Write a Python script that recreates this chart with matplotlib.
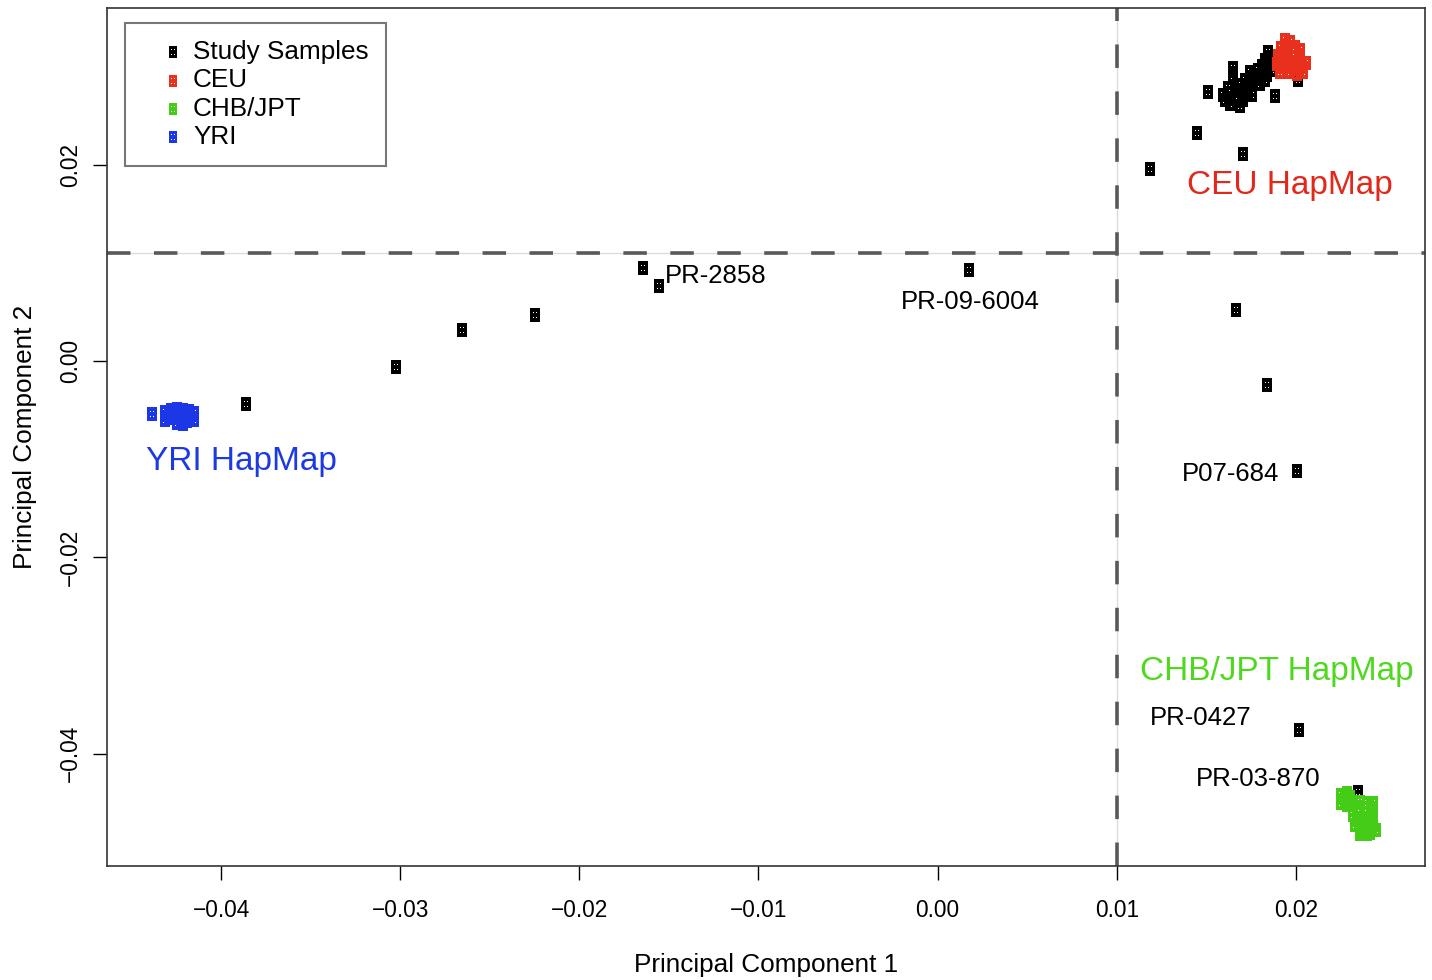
import numpy as np
import matplotlib
matplotlib.use('Agg')
import matplotlib.pyplot as plt
from matplotlib.path import Path

# ---- data (PC1, PC2) ----
study_pc1 = [-0.03860, -0.03022, -0.02654, -0.02246, -0.01642, -0.01553, 0.00173,
             0.01665, 0.01838, 0.02006, 0.02017, 0.02346,
             0.01184, 0.01447, 0.01704, 0.01508, 0.01648, 0.01648, 0.01603, 0.01631,
             0.01687, 0.01592, 0.01659, 0.01698, 0.01732, 0.01676, 0.01715, 0.01754,
             0.01777, 0.01743, 0.01788, 0.01810, 0.01827, 0.01855, 0.01844, 0.01799,
             0.01827, 0.01754, 0.01866, 0.01883, 0.02011, 0.01620, 0.01704, 0.01838,
             0.01877, 0.01720, 0.01765, 0.01665]
study_pc2 = [-0.00438, -0.00061, 0.00316, 0.00469, 0.00947, 0.00764, 0.00927,
             0.00520, -0.00244, -0.01120, -0.03759, -0.04390,
             0.01956, 0.02323, 0.02109, 0.02740, 0.02985, 0.02903, 0.02659, 0.02618,
             0.02598, 0.02710, 0.02699, 0.02740, 0.02781, 0.02811, 0.02862, 0.02842,
             0.02903, 0.02944, 0.02964, 0.03005, 0.03066, 0.03086, 0.03148, 0.02822,
             0.02862, 0.02710, 0.02964, 0.02699, 0.02862, 0.02781, 0.02659, 0.02913,
             0.03025, 0.02750, 0.02880, 0.02760]

ceu_pc1 = [0.01939, 0.01966, 0.01916, 0.01955, 0.01994, 0.02022, 0.01899, 0.01933,
           0.01978, 0.02017, 0.01894, 0.01939, 0.01983, 0.02034, 0.02056, 0.01911,
           0.01966, 0.02006, 0.02039, 0.02000]
ceu_pc2 = [0.03270, 0.03249, 0.03188, 0.03168, 0.03199, 0.03168, 0.03107, 0.03086,
           0.03097, 0.03076, 0.03025, 0.03005, 0.03025, 0.03005, 0.03036, 0.02944,
           0.02944, 0.02924, 0.02944, 0.02985]

chb_pc1 = [0.02251, 0.02285, 0.02251, 0.02285, 0.02318, 0.02358, 0.02397, 0.02430,
           0.02318, 0.02358, 0.02397, 0.02430, 0.02330, 0.02369, 0.02408, 0.02430,
           0.02369, 0.02413, 0.02385, 0.02302, 0.02274, 0.02341, 0.02380, 0.02419,
           0.02341, 0.02380, 0.02419, 0.02358, 0.02397, 0.02447]
chb_pc2 = [-0.04421, -0.04401, -0.04502, -0.04523, -0.04523, -0.04492, -0.04502, -0.04502,
           -0.04625, -0.04604, -0.04604, -0.04604, -0.04727, -0.04706, -0.04706, -0.04727,
           -0.04798, -0.04808, -0.04757, -0.04441, -0.04472, -0.04554, -0.04554, -0.04554,
           -0.04666, -0.04666, -0.04666, -0.04818, -0.04818, -0.04777]

yri_pc1 = [-0.04385, -0.04313, -0.04313, -0.04279, -0.04279, -0.04246, -0.04246, -0.04246,
           -0.04212, -0.04212, -0.04212, -0.04179, -0.04179, -0.04151, -0.04151, -0.04291,
           -0.04190]
yri_pc2 = [-0.00540, -0.00520, -0.00601, -0.00499, -0.00581, -0.00489, -0.00560, -0.00632,
           -0.00499, -0.00570, -0.00642, -0.00509, -0.00581, -0.00530, -0.00601, -0.00550,
           -0.00611]

sample_labels = ['PR-2858', 'PR-09-6004', 'P07-684', 'PR-0427', 'PR-03-870']
sample_label_x = [-0.01520, 0.00184, 0.01637, 0.01469, 0.01788]
sample_label_y = [0.00866, 0.00601, -0.01151, -0.03637, -0.04258]

cut_pc1 = 0.010
cut_pc2 = 0.011

xticks = [-0.04, -0.03, -0.02, -0.01, 0.00, 0.01, 0.02]
yticks = [-0.04, -0.02, 0.00, 0.02]

RED = '#e8301c'
GREEN = '#45cc16'
BLUE = '#1b37e6'


def dice_marker():
    # black tile with four tiny white pips (holes), like the original symbol
    verts, codes = [], []

    def rect(x0, y0, x1, y1, ccw=True):
        pts = [(x0, y0), (x1, y0), (x1, y1), (x0, y1)]
        if not ccw:
            pts = pts[::-1]
        verts.extend(pts + [pts[0]])
        codes.extend([Path.MOVETO, Path.LINETO, Path.LINETO, Path.LINETO, Path.CLOSEPOLY])

    rect(-0.38, -0.5, 0.38, 0.5)
    for cx, cy in [(-0.12, 0.2), (0.12, 0.2), (-0.12, -0.2), (0.12, -0.2)]:
        rect(cx - 0.035, cy - 0.035, cx + 0.035, cy + 0.035, ccw=False)
    return Path(verts, codes)


plt.rcParams['font.family'] = ['Liberation Sans', 'DejaVu Sans']

fig = plt.figure(figsize=(14.32, 9.8), dpi=100)
ax = fig.add_axes([0.0747, 0.1163, 0.9204, 0.8755])

mk = dice_marker()
msize = 9.8 ** 2

# cut-off lines: thin light line under a heavy dashed one
ax.axvline(cut_pc1, color='#dcdcdc', lw=1, zorder=1)
ax.axhline(cut_pc2, color='#dcdcdc', lw=1, zorder=1)
ax.axvline(cut_pc1, color='#595959', lw=2.6, ls=(0, (6.5, 6.5)), zorder=2)
ax.axhline(cut_pc2, color='#595959', lw=2.6, ls=(0, (6.5, 6.5)), zorder=2)

h_study = ax.scatter(study_pc1, study_pc2, marker=mk, s=msize, c='black', linewidths=0, zorder=3)
h_ceu = ax.scatter(ceu_pc1, ceu_pc2, marker=mk, s=msize, c=RED, linewidths=0, zorder=4)
h_chb = ax.scatter(chb_pc1, chb_pc2, marker=mk, s=msize, c=GREEN, linewidths=0, zorder=4)
h_yri = ax.scatter(yri_pc1, yri_pc2, marker=mk, s=msize, c=BLUE, linewidths=0, zorder=4)

for lab, x, y in zip(sample_labels, sample_label_x, sample_label_y):
    ha = 'left' if lab == 'PR-2858' else 'center'
    ax.text(x, y, lab, ha=ha, va='center', fontsize=18.5, color='black')

ax.text(0.01966, 0.01793, 'CEU HapMap', ha='center', va='center', fontsize=24, color='#e2281a')
ax.text(-0.03888, -0.01019, 'YRI HapMap', ha='center', va='center', fontsize=24, color='#1c3ae2')
ax.text(0.01894, -0.03158, 'CHB/JPT HapMap', ha='center', va='center', fontsize=24, color='#4fd91e')

ax.set_xlim(-0.04637, 0.02721)
ax.set_ylim(-0.05144, 0.03596)
ax.set_xticks(xticks)
ax.set_xticklabels([f'{t:.2f}'.replace('-', '\u2212') for t in xticks])
ax.set_yticks(yticks)
ax.set_yticklabels([f'{t:.2f}'.replace('-', '\u2212') for t in yticks], rotation=90, va='center')
ax.tick_params(axis='both', direction='out', length=10, width=1, labelsize=16.3, colors='black')
ax.tick_params(axis='x', pad=14)
ax.tick_params(axis='y', pad=8)
for sp in ax.spines.values():
    sp.set_linewidth(1.2)
    sp.set_color('#333333')

ax.set_xlabel('Principal Component 1', fontsize=18.8, labelpad=22)
ax.set_ylabel('Principal Component 2', fontsize=18.8, labelpad=16)

leg = ax.legend([h_study, h_ceu, h_chb, h_yri], ['Study Samples', 'CEU', 'CHB/JPT', 'YRI'],
                loc='upper left', bbox_to_anchor=(0.0137, 0.9825), borderaxespad=0,
                fontsize=18.8, scatterpoints=1, markerscale=0.85, fancybox=False,
                framealpha=1, edgecolor='#777777', borderpad=0.65, handlelength=2.4,
                handletextpad=-0.45, labelspacing=0.17)
leg.get_frame().set_linewidth(1.5)

fig.savefig('out.png', dpi=100)
